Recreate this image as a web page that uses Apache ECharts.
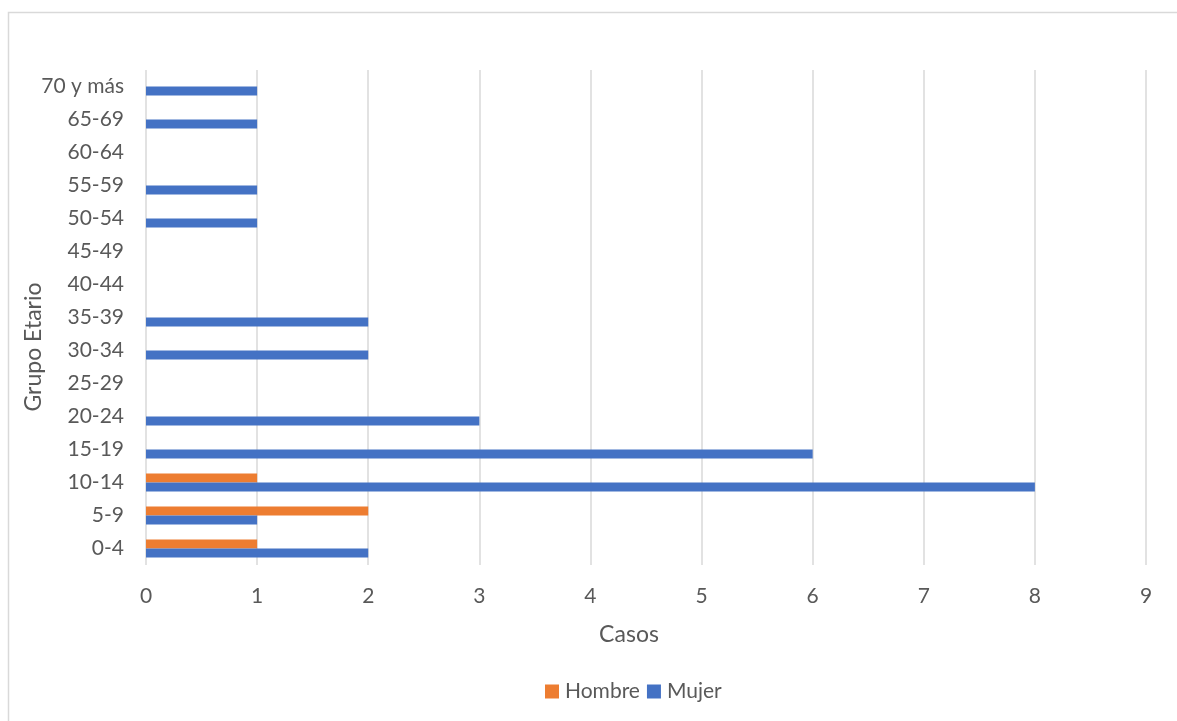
<!DOCTYPE html>
<html>
<head>
<meta charset="utf-8">
<style>
  html, body { margin: 0; padding: 0; background: #ffffff; }
  #chart { width: 1177px; height: 721px; }
</style>
<script src="https://cdn.jsdelivr.net/npm/echarts@6/dist/echarts.min.js"></script>
</head>
<body>
<div id="chart"></div>
<script>
// Age groups, bottom to top
const categories = ['0-4', '5-9', '10-14', '15-19', '20-24', '25-29', '30-34', '35-39',
                    '40-44', '45-49', '50-54', '55-59', '60-64', '65-69', '70 y más'];
// Cases by sex
const hombre = [1, 2, 1, 0, 0, 0, 0, 0, 0, 0, 0, 0, 0, 0, 0];
const mujer  = [2, 1, 8, 6, 3, 0, 2, 2, 0, 0, 1, 1, 0, 1, 1];
const seriesNames = ['Hombre', 'Mujer'];
const xTitle = 'Casos';
const yTitle = 'Grupo Etario';

const FONT = 'Lato, "Open Sans", sans-serif';
const TEXT = '#595959';
const GRID = '#d9d9d9';

const chart = echarts.init(document.getElementById('chart'), null, { renderer: 'canvas' });

chart.setOption({
  animation: false,
  backgroundColor: '#ffffff',
  textStyle: { fontFamily: FONT, color: TEXT },
  grid: { left: 146, right: 31, top: 70, bottom: 156, containLabel: false },
  xAxis: {
    type: 'value',
    min: 0, max: 9, interval: 1,
    axisLine: { show: false },
    axisTick: { show: false },
    axisLabel: { color: TEXT, fontSize: 21, fontFamily: FONT, margin: 21 },
    splitLine: { show: true, lineStyle: { color: GRID, width: 1.5 } }
  },
  yAxis: {
    type: 'category',
    data: categories,
    axisLine: { show: false },
    axisTick: { show: false },
    axisLabel: { color: TEXT, fontSize: 21, fontFamily: FONT, margin: 22 },
    splitLine: { show: false }
  },
  legend: {
    data: seriesNames,
    left: 540, top: 676,
    itemWidth: 14, itemHeight: 14, itemGap: 7,
    icon: 'rect',
    textStyle: { color: TEXT, fontSize: 21, fontFamily: FONT, padding: [0, 0, 0, 1] }
  },
  graphic: [
    {
      type: 'rect', silent: true,
      shape: { x: 8.5, y: 12.5, width: 1300, height: 900 },
      style: { fill: 'none', stroke: GRID, lineWidth: 1.5 }
    },
    {
      type: 'text', silent: true,
      x: 629, y: 635,
      style: { text: xTitle, fill: TEXT, font: '23px ' + FONT, align: 'center', verticalAlign: 'middle' }
    },
    {
      type: 'text', silent: true,
      x: 34, y: 347, rotation: Math.PI / 2,
      style: { text: yTitle, fill: TEXT, font: '23px ' + FONT, align: 'center', verticalAlign: 'middle' }
    }
  ],
  series: [
    {
      name: seriesNames[0], type: 'bar', data: hombre,
      barWidth: 9, barGap: '0%',
      itemStyle: { color: '#ED7D31' }
    },
    {
      name: seriesNames[1], type: 'bar', data: mujer,
      barWidth: 9, barGap: '0%',
      itemStyle: { color: '#4472C4' }
    }
  ]
});
</script>
</body>
</html>
